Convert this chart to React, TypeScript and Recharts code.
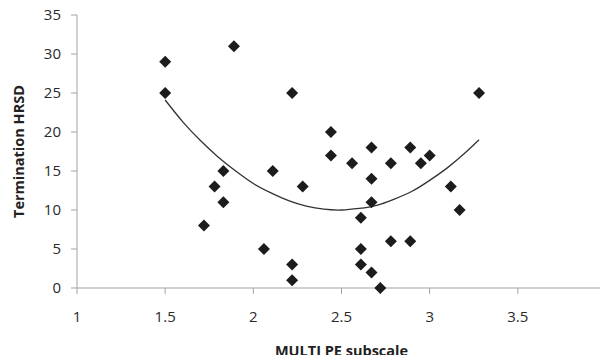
import React from "react";
import { ComposedChart, Scatter, Line, XAxis, YAxis } from "recharts";

// MULTI PE subscale score per patient
const subscale = [
  1.5, 1.5, 1.89, 2.22, 1.83, 1.78, 1.83, 1.72, 2.06, 2.11, 2.28, 2.22, 2.22, 2.44, 2.44, 2.56,
  2.67, 2.67, 2.67, 2.61, 2.61, 2.61, 2.67, 2.72, 2.78, 2.78, 2.89, 2.89, 2.95, 3.0, 3.12, 3.17,
  3.28,
];
// termination HRSD per patient (same order)
const hrsd = [
  29, 25, 31, 25, 15, 13, 11, 8, 5, 15, 13, 3, 1, 20, 17, 16, 18, 14, 11, 9, 5, 3, 2, 0, 16, 6,
  18, 6, 16, 17, 13, 10, 25,
];

// quadratic trend line
const trendX = [1.5, 1.6, 1.7, 1.8, 1.9, 2.0, 2.1, 2.2, 2.3, 2.4, 2.5, 2.6, 2.7, 2.8, 2.9, 3.0, 3.1, 3.2, 3.28];
const trendY = [24.1, 21.3, 18.9, 16.8, 15.0, 13.4, 12.2, 11.2, 10.5, 10.1, 10.0, 10.2, 10.6, 11.4, 12.4, 13.8, 15.4, 17.3, 19.0];

const xTicks = [1, 1.5, 2, 2.5, 3, 3.5, 4];
const yTicks = [0, 5, 10, 15, 20, 25, 30, 35];

const points = subscale.map((x, i) => ({ x, y: hrsd[i] }));
const trend = trendX.map((x, i) => ({ x, y: trendY[i] }));

const FONT = "'Open Sans', sans-serif";
const AXIS = "#a3a3a3";

const Diamond = (props: any) => {
  const { cx, cy } = props;
  const r = 6;
  return (
    <polygon
      points={`${cx},${cy - r} ${cx + r},${cy} ${cx},${cy + r} ${cx - r},${cy}`}
      fill="#1c1c1c"
    />
  );
};

export default function App() {
  return (
    <div style={{ width: 608, height: 363, margin: -8, fontFamily: FONT }}>
      <ComposedChart width={608} height={363} margin={{ top: 15, right: 2, left: 0, bottom: 0 }}>
        <XAxis
          dataKey="x"
          type="number"
          domain={[1, 4]}
          ticks={xTicks}
          interval={0}
          height={75}
          stroke={AXIS}
          tickSize={6}
          tickMargin={17}
          tick={{ fill: "#2a2a2a", fontSize: 15, fontFamily: FONT }}
          label={{
            content: ({ viewBox }: any) => (
              <text
                x={viewBox.x + viewBox.width / 2}
                y={viewBox.y + 62}
                textAnchor="middle"
                dominantBaseline="central"
                fontFamily={FONT}
                fontSize={14.5}
                fontWeight="bold"
                fill="#222"
              >
                MULTI PE subscale
              </text>
            ),
          }}
        />
        <YAxis
          type="number"
          domain={[0, 35]}
          ticks={yTicks}
          interval={0}
          width={77}
          stroke={AXIS}
          tickSize={6}
          tickMargin={10}
          tick={{ fill: "#2a2a2a", fontSize: 15, fontFamily: FONT }}
          label={{
            content: ({ viewBox }: any) => {
              const cx = viewBox.x + 18;
              const cy = viewBox.y + viewBox.height / 2;
              return (
                <text
                  x={cx}
                  y={cy}
                  transform={`rotate(-90 ${cx} ${cy})`}
                  textAnchor="middle"
                  dominantBaseline="central"
                  fontFamily={FONT}
                  fontSize={14.5}
                  fontWeight="bold"
                  fill="#222"
                >
                  Termination HRSD
                </text>
              );
            },
          }}
        />
        <Line
          data={trend}
          dataKey="y"
          type="natural"
          stroke="#333"
          strokeWidth={1.3}
          dot={false}
          activeDot={false}
          isAnimationActive={false}
        />
        <Scatter data={points} dataKey="y" shape={Diamond} isAnimationActive={false} />
      </ComposedChart>
    </div>
  );
}
